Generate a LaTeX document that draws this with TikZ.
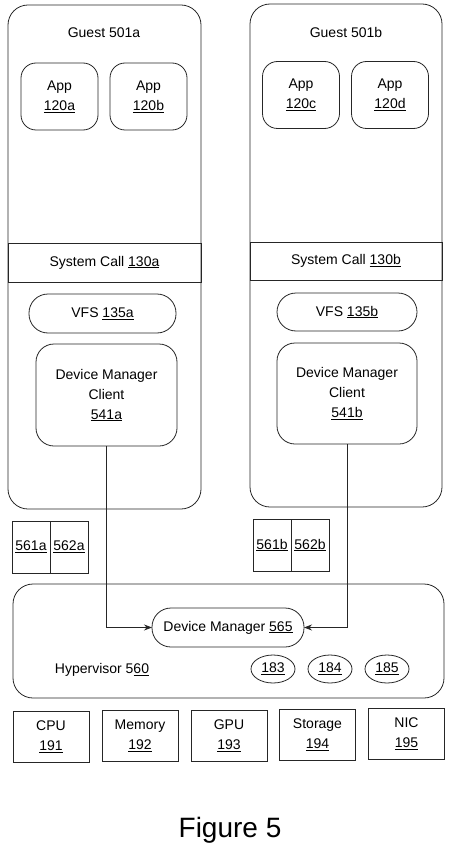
\documentclass[tikz,border=0pt]{standalone}
\usepackage{fontspec}
\setmainfont{Liberation Sans}
\usetikzlibrary{arrows.meta,shapes.geometric}
\begin{document}
\begin{tikzpicture}[x=1pt,y=-1pt,
  every node/.style={inner sep=0pt,outer sep=0pt,align=center,font=\fontsize{14}{20}\selectfont},
  ln/.style={draw=black!85,line width=0.8pt},
  guestbox/.style={ln,rounded corners=20pt,minimum width=193pt,minimum height=504pt},
  band/.style={ln,minimum width=193pt,minimum height=39pt},
  appbox/.style={ln,rounded corners=15pt,minimum width=77pt,minimum height=67pt},
  pill/.style={ln,rounded corners=19pt,minimum height=39pt},
  dmcbox/.style={ln,rounded corners=18pt,minimum width=141pt,minimum height=102pt},
  regbox/.style={ln,minimum width=38pt,minimum height=52pt},
  hwbox/.style={ln,minimum width=76pt,minimum height=51pt},
  oval/.style={ln,ellipse,minimum width=44pt,minimum height=28pt},
  conn/.style={ln,-{Stealth[length=8pt,width=6pt]}}
]
\useasboundingbox (0,0) rectangle (456,853);
% guests
\node[guestbox] (ga) at (104.5,257) {};
\node[guestbox,minimum width=192pt,minimum height=503pt] (gb) at (346,255.5) {};
\node (gat) at (104,33) {Guest 501a};
\node (gbt) at (346,32) {Guest 501b};
\node[appbox] (a1) at (59.5,96.5) {App\\\underline{120a}};
\node[appbox] (a2) at (148.5,96.5) {App\\\underline{120b}};
\node[appbox] (a3) at (301,95) {App\\\underline{120c}};
\node[appbox] (a4) at (390,95) {App\\\underline{120d}};
\node[band] (sa) at (104.5,262.5) {System Call \underline{130a}};
\node[band,minimum width=192pt,minimum height=38pt] (sb) at (346,261) {System Call \underline{130b}};
\node[pill,minimum width=147pt] (va) at (102.5,313.5) {VFS \underline{135a}};
\node[pill,minimum width=140pt,minimum height=38pt] (vb) at (347,312) {VFS \underline{135b}};
\node[dmcbox] (da) at (106.5,395) {Device Manager\\Client\\\underline{541a}};
\node[dmcbox,minimum width=140pt,minimum height=101pt] (db) at (347,393.5) {Device Manager\\Client\\\underline{541b}};
% registers
\node[regbox] (r1a) at (31,547) {\underline{561a}};
\node[regbox] (r2a) at (69,547) {\underline{562a}};
\node[regbox] (r1b) at (272,545) {\underline{561b}};
\node[regbox] (r2b) at (310,545) {\underline{562b}};
% hypervisor
\node[ln,rounded corners=20pt,minimum width=431pt,minimum height=114pt] (hv) at (228.5,641) {};
\node (hvt) at (102,670) {Hypervisor 5\underline{60}};
\node[pill,minimum width=152pt] (dm) at (228,627.5) {Device Manager \underline{565}};
\node[oval] (o1) at (273,669) {\underline{183}};
\node[oval] (o2) at (330,669) {\underline{184}};
\node[oval] (o3) at (387,669) {\underline{185}};
% hardware
\node[hwbox] (cpu) at (51,736.5) {CPU\\\underline{191}};
\node[hwbox] (mem) at (140,736) {Memory\\\underline{192}};
\node[hwbox] (gpu) at (229,735.5) {GPU\\\underline{193}};
\node[hwbox] (sto) at (317.5,735) {Storage\\\underline{194}};
\node[hwbox] (nic) at (406.5,734) {NIC\\\underline{195}};
\node[font=\fontsize{28}{32}\selectfont] (fig) at (230,830) {Figure 5};
% connectors
\draw[conn] (da.south) |- (dm.west);
\draw[conn] (db.south) |- (dm.east);
\end{tikzpicture}
\end{document}
